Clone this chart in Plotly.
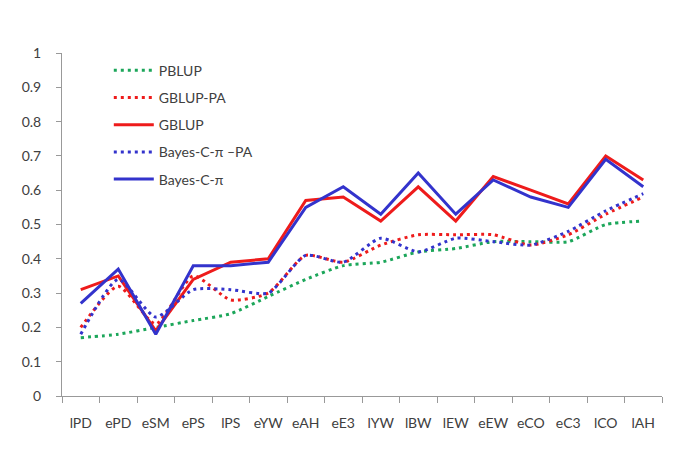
import plotly.graph_objects as go

categories = ["lPD", "ePD", "eSM", "ePS", "lPS", "eYW", "eAH", "eE3",
              "lYW", "lBW", "lEW", "eEW", "eCO", "eC3", "lCO", "lAH"]
pblup = [0.17, 0.18, 0.20, 0.22, 0.24, 0.29, 0.34, 0.38, 0.39, 0.42, 0.43, 0.45, 0.45, 0.45, 0.50, 0.51]
gblup_pa = [0.20, 0.32, 0.21, 0.35, 0.28, 0.30, 0.41, 0.39, 0.44, 0.47, 0.47, 0.47, 0.44, 0.47, 0.53, 0.58]
gblup = [0.31, 0.35, 0.19, 0.34, 0.39, 0.40, 0.57, 0.58, 0.51, 0.61, 0.51, 0.64, 0.60, 0.56, 0.70, 0.63]
bayes_pa = [0.18, 0.34, 0.23, 0.31, 0.31, 0.30, 0.41, 0.39, 0.46, 0.42, 0.46, 0.45, 0.44, 0.48, 0.54, 0.59]
bayes = [0.27, 0.37, 0.18, 0.38, 0.38, 0.39, 0.55, 0.61, 0.53, 0.65, 0.53, 0.63, 0.58, 0.55, 0.69, 0.61]
y_ticks = [0, 0.1, 0.2, 0.3, 0.4, 0.5, 0.6, 0.7, 0.8, 0.9, 1]

GREEN = "#1ca65a"
RED = "#ee1b1b"
BLUE = "#3333cc"
DOT = "3px,4px"

series = [
    ("PBLUP", pblup, GREEN, DOT, "spline"),
    ("GBLUP-PA", gblup_pa, RED, DOT, "spline"),
    ("GBLUP", gblup, RED, "solid", "linear"),
    ("Bayes-C-π –PA", bayes_pa, BLUE, DOT, "spline"),
    ("Bayes-C-π", bayes, BLUE, "solid", "linear"),
]

fig = go.Figure()
for i, (name, vals, col, dash, shape) in enumerate(series):
    fig.add_trace(go.Scatter(
        x=categories, y=vals, name=name, mode="lines",
        legendgroup=f"g{i}",
        line=dict(color=col, width=3, dash=dash, shape=shape, smoothing=0.6),
    ))

font_fam = "Lato, 'Noto Sans', sans-serif"
fig.update_layout(
    width=685, height=468,
    margin=dict(l=54, r=31, t=45, b=80),
    paper_bgcolor="white", plot_bgcolor="white",
    font=dict(family=font_fam, size=14, color="#404040"),
    showlegend=True,
    legend=dict(
        x=0.078, y=0.995, xanchor="left", yanchor="top",
        bgcolor="rgba(0,0,0,0)", font=dict(size=14, color="#404040"),
        tracegroupgap=6, traceorder="grouped", itemwidth=40,
    ),
    xaxis=dict(
        type="category", showgrid=False, showline=True, linecolor="#999999",
        linewidth=1, ticks="outside", tickson="boundaries", ticklen=6,
        tickcolor="#999999", range=[-0.5, 15.5], ticklabelstandoff=14,
        tickangle=0, automargin=False,
        tickfont=dict(size=14, color="#404040"),
    ),
    yaxis=dict(
        range=[0, 1], tickvals=y_ticks, ticktext=[f"{v:g}" for v in y_ticks],
        showgrid=False, showline=True, linecolor="#999999", linewidth=1,
        ticks="outside", ticklen=5, tickcolor="#999999", zeroline=False,
        ticklabelstandoff=12, automargin=False,
        tickfont=dict(size=14, color="#404040"),
    ),
)

fig.write_html("out.html")
